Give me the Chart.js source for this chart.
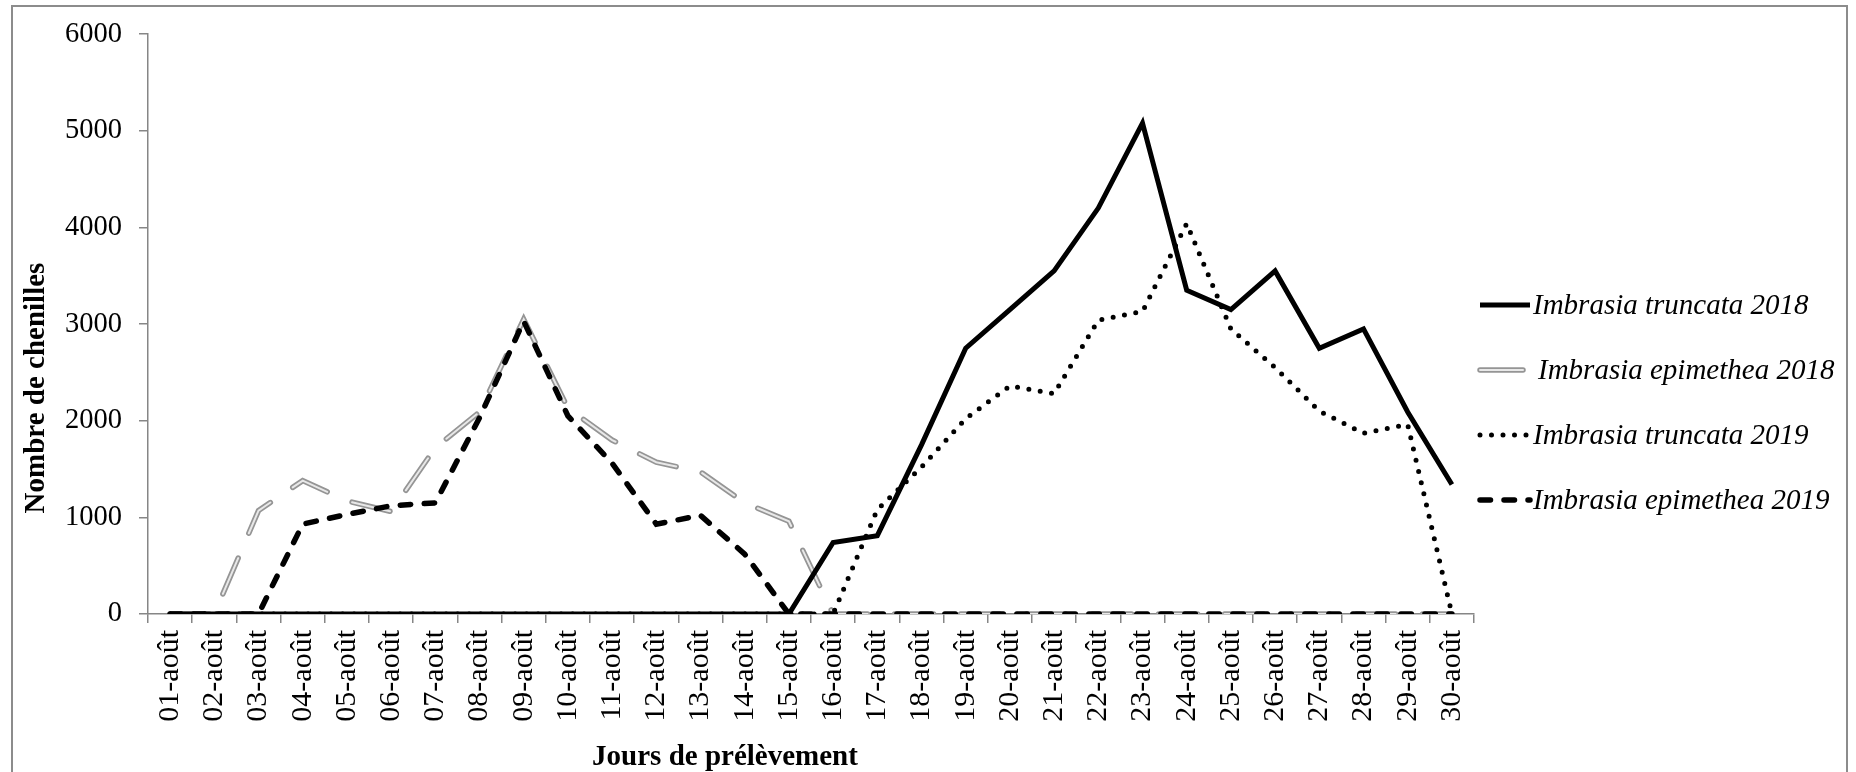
<!DOCTYPE html>
<html lang="fr">
<head>
    <meta charset="UTF-8">
    <title>Nombre de chenilles par jour de prélèvement</title>
    <script src="https://cdn.jsdelivr.net/npm/chart.js"></script>
    <style>
        body {
            margin: 0;
            background: #fff;
            overflow: hidden;
        }
        .frame {
            position: absolute;
            left: 11px;
            top: 5px;
            width: 1833px;
            height: 820px;
            border: 2px solid #8c8c8c;
        }
        #chart {
            position: absolute;
            left: 0;
            top: 0;
        }
    </style>
</head>
<body>

    <div class="frame"></div>
    <canvas id="chart" width="1856" height="772"></canvas>

    <script>
        // Jours de prélèvement
        const days = [
            '01-août', '02-août', '03-août', '04-août', '05-août', '06-août',
            '07-août', '08-août', '09-août', '10-août', '11-août', '12-août',
            '13-août', '14-août', '15-août', '16-août', '17-août', '18-août',
            '19-août', '20-août', '21-août', '22-août', '23-août', '24-août',
            '25-août', '26-août', '27-août', '28-août', '29-août', '30-août'
        ];

        // Nombre de chenilles
        const truncata2018 = [0, 0, 0, 0, 0, 0, 0, 0, 0, 0, 0, 0, 0, 0, 0,
            740, 810, 1750, 2750, 3150, 3550, 4200, 5080, 3350, 3150, 3550, 2750, 2950, 2090, 1340];
        const epimethea2018 = [0, 0, 1070, 1380, 1170, 1060, 1720, 2090, 3050, 2130, 1800, 1570, 1470, 1150, 960,
            0, 0, 0, 0, 0, 0, 0, 0, 0, 0, 0, 0, 0, 0, 0];
        const truncata2019 = [0, 0, 0, 0, 0, 0, 0, 0, 0, 0, 0, 0, 0, 0, 0, 0,
            1080, 1520, 2020, 2360, 2280, 3040, 3130, 4040, 2950, 2550, 2100, 1870, 1960, 0];
        const epimethea2019 = [0, 0, 0, 930, 1030, 1120, 1150, 2030, 3030, 2050, 1560, 930, 1020, 620, 0,
            0, 0, 0, 0, 0, 0, 0, 0, 0, 0, 0, 0, 0, 0, 0];

        const yTicks = [0, 1000, 2000, 3000, 4000, 5000, 6000];

        const serif = "'Liberation Serif', 'Times New Roman', serif";
        const axisGray = '#868686';

        Chart.defaults.font.family = serif;
        Chart.defaults.font.size = 29;
        Chart.defaults.color = '#000';

        const datasets = [
            {
                label: 'Imbrasia truncata 2018',
                data: truncata2018,
                borderColor: '#000',
                borderWidth: 5,
                borderJoinStyle: 'miter',
                order: 1
            },
            {
                label: 'Imbrasia epimethea 2018',
                data: epimethea2018,
                borderColor: '#959595',
                borderWidth: 5.5,
                borderDash: [39, 27],
                borderCapStyle: 'round',
                order: 4
            },
            {
                // filet clair au centre de la double ligne grise
                label: '',
                data: epimethea2018,
                borderColor: '#e8e8e8',
                borderWidth: 2,
                borderDash: [39, 27],
                borderCapStyle: 'round',
                order: 3,
                inner: true
            },
            {
                label: 'Imbrasia truncata 2019',
                data: truncata2019,
                borderColor: '#000',
                borderWidth: 5,
                borderDash: [0, 11.5],
                borderCapStyle: 'round',
                order: 2
            },
            {
                label: 'Imbrasia epimethea 2019',
                data: epimethea2019,
                borderColor: '#000',
                borderWidth: 5.5,
                borderDash: [10.5, 13.5],
                borderCapStyle: 'round',
                order: 0
            }
        ];

        // legend and axis titles drawn at fixed places, like the original figure
        const extras = {
            id: 'extras',
            afterDraw(chart) {
                const ctx = chart.ctx;
                const area = chart.chartArea;
                ctx.save();

                // axis titles
                ctx.fillStyle = '#000';
                ctx.font = 'bold 29px ' + serif;
                ctx.textAlign = 'center';
                ctx.textBaseline = 'alphabetic';
                ctx.fillText('Jours de prélèvement', 725, 765);

                ctx.save();
                ctx.translate(37, 388);
                ctx.rotate(-Math.PI / 2);
                ctx.textBaseline = 'middle';
                ctx.fillText('Nombre de chenilles', 0, 0);
                ctx.restore();

                // legend
                const rows = chart.data.datasets.filter(d => !d.inner);
                const x0 = area.right + 3;
                rows.forEach((ds, i) => {
                    const y = 305 + i * 65;
                    const gray = ds.label === 'Imbrasia epimethea 2018';
                    const x1 = gray ? x0 + 46 : x0 + 53;
                    ctx.lineCap = ds.borderCapStyle || 'butt';
                    ctx.strokeStyle = ds.borderColor;
                    ctx.lineWidth = ds.borderWidth;
                    ctx.setLineDash(gray ? [] : (ds.borderDash || []));
                    ctx.beginPath();
                    ctx.moveTo(x0 + 3, y);
                    ctx.lineTo(x1, y);
                    ctx.stroke();
                    if (gray) {
                        ctx.strokeStyle = '#e8e8e8';
                        ctx.lineWidth = 2;
                        ctx.beginPath();
                        ctx.moveTo(x0 + 3, y);
                        ctx.lineTo(x1, y);
                        ctx.stroke();
                    }
                    ctx.setLineDash([]);
                    ctx.fillStyle = '#000';
                    ctx.font = 'italic 29px ' + serif;
                    ctx.textAlign = 'left';
                    ctx.textBaseline = 'middle';
                    ctx.fillText(ds.label, gray ? x0 + 61 : x0 + 56, y + 1);
                });
                ctx.restore();
            }
        };

        new Chart(document.getElementById('chart').getContext('2d'), {
            type: 'line',
            data: {
                labels: days,
                datasets: datasets
            },
            options: {
                responsive: false,
                animation: false,
                devicePixelRatio: 1,
                elements: {
                    point: { radius: 0 },
                    line: { tension: 0, fill: false }
                },
                layout: {
                    padding: { left: 0, top: 32, right: 382, bottom: 0 }
                },
                plugins: {
                    legend: { display: false },
                    tooltip: { enabled: false }
                },
                scales: {
                    x: {
                        offset: true,
                        afterFit(scale) { scale.height = 158; },
                        border: { color: axisGray, width: 1.5 },
                        grid: {
                            offset: true,
                            drawOnChartArea: false,
                            tickLength: 9,
                            color: axisGray,
                            lineWidth: 1.5
                        },
                        ticks: {
                            autoSkip: false,
                            maxRotation: 90,
                            minRotation: 90,
                            padding: 7,
                            font: { size: 30 }
                        }
                    },
                    y: {
                        min: 0,
                        max: 6000,
                        afterFit(scale) { scale.width = 148; },
                        afterBuildTicks(scale) {
                            scale.ticks = yTicks.map(v => ({ value: v }));
                        },
                        border: { color: axisGray, width: 1.5 },
                        grid: {
                            drawOnChartArea: false,
                            tickLength: 9,
                            color: axisGray,
                            lineWidth: 1.5
                        },
                        ticks: {
                            padding: 17,
                            font: { size: 28.5 },
                            callback: v => String(v)
                        }
                    }
                }
            },
            plugins: [extras]
        });
    </script>

</body>
</html>
